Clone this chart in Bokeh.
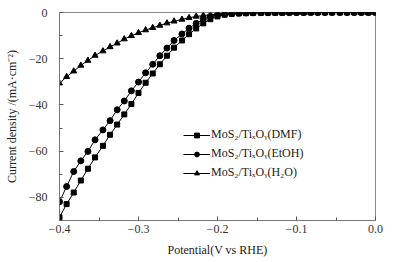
from bokeh.plotting import figure
from bokeh.models import FixedTicker, CustomJSTickFormatter, Legend, LegendItem, ColumnDataSource
from bokeh.embed import file_html
from bokeh.resources import INLINE

potential = [-0.400, -0.391, -0.382, -0.373, -0.364, -0.355, -0.345, -0.336, -0.327, -0.318,
             -0.309, -0.300, -0.291, -0.282, -0.273, -0.264, -0.255, -0.245, -0.236, -0.227,
             -0.218, -0.209, -0.200, -0.191, -0.182, -0.173, -0.164, -0.155, -0.145, -0.136,
             -0.127, -0.118, -0.109, -0.100, -0.091, -0.082, -0.073, -0.064, -0.055, -0.045,
             -0.036, -0.027, -0.018, -0.009, 0.000]

dmf = [-88.6, -82.9, -77.9, -72.7, -67.6, -62.7, -57.7, -52.9, -48.5, -44.1,
       -39.6, -34.8, -30.4, -26.4, -22.4, -18.7, -15.2, -12.1, -9.4, -6.9,
       -4.7, -2.9, -1.7, -1.0, -0.6, -0.4, -0.3, -0.2, -0.15, -0.1,
       -0.1, -0.1, -0.05, -0.05, -0.05, 0.0, 0.0, 0.0, 0.0, 0.0,
       0.0, 0.0, 0.0, 0.0, 0.0]

etoh = [-81.9, -75.3, -68.8, -64.2, -60.1, -55.1, -50.8, -46.8, -42.1, -38.3,
        -33.9, -30.1, -26.1, -22.4, -18.7, -15.4, -12.1, -9.3, -6.8, -4.7,
        -3.0, -1.7, -1.0, -0.6, -0.4, -0.3, -0.2, -0.15, -0.1, -0.1,
        -0.05, -0.05, -0.05, 0.0, 0.0, 0.0, 0.0, 0.0, 0.0, 0.0,
        0.0, 0.0, 0.0, 0.0, 0.0]

h2o = [-30.6, -27.8, -25.4, -22.9, -20.8, -18.6, -16.7, -14.9, -13.3, -11.5,
       -10.1, -8.8, -7.6, -6.6, -5.6, -4.6, -3.8, -3.0, -2.3, -1.7,
       -1.3, -1.0, -0.7, -0.5, -0.35, -0.25, -0.2, -0.15, -0.1, -0.1,
       -0.05, -0.05, -0.05, 0.0, 0.0, 0.0, 0.0, 0.0, 0.0, 0.0,
       0.0, 0.0, 0.0, 0.0, 0.0]

labels = ["MoS\u2082/Ti\u2093O\u1d67(DMF)", "MoS\u2082/Ti\u2093O\u1d67(EtOH)", "MoS\u2082/Ti\u2093O\u1d67(H\u2082O)"]

x_ticks = [-0.4, -0.3, -0.2, -0.1, 0.0]
x_minor = [-0.35, -0.25, -0.15, -0.05]
y_ticks = [-80, -60, -40, -20, 0]
y_minor = [-90, -70, -50, -30, -10]

FONT = "Liberation Serif"

p = figure(width=403, height=262, output_backend="svg", toolbar_location=None,
           x_range=(-0.4, 0.0), y_range=(-90, 0),
           min_border_left=59, min_border_right=28, min_border_top=12, min_border_bottom=42)
p.background_fill_color = "white"
p.border_fill_color = "white"
p.outline_line_color = "#888888"
p.outline_line_width = 1
p.xgrid.visible = False
p.ygrid.visible = False

fmt = CustomJSTickFormatter(code="""
if (Math.abs(tick) < 1e-9) { return '0.0'; }
return tick.toFixed(1).replace('-', '\\u2212');
""")
fmt_y = CustomJSTickFormatter(code="""
const d = Math.round(tick);
return String(d).replace('-', '\\u2212');
""")

p.xaxis.ticker = FixedTicker(ticks=x_ticks, minor_ticks=x_minor)
p.yaxis.ticker = FixedTicker(ticks=y_ticks, minor_ticks=y_minor)
p.xaxis.formatter = fmt
p.yaxis.formatter = fmt_y

for ax in (p.xaxis[0], p.yaxis[0]):
    ax.axis_line_color = "#777777"
    ax.major_tick_line_color = "#555555"
    ax.minor_tick_line_color = "#555555"
    ax.major_tick_in = 4
    ax.major_tick_out = 0
    ax.minor_tick_in = 3
    ax.minor_tick_out = 0
    ax.major_label_text_font = FONT
    ax.major_label_text_font_size = "12px"
    ax.major_label_text_color = "#333333"
    ax.axis_label_text_font = FONT
    ax.axis_label_text_font_size = "12px"
    ax.axis_label_text_font_style = "normal"
    ax.axis_label_text_color = "#222222"

p.xaxis.axis_label = "Potential(V vs RHE)"
p.yaxis.axis_label = "Current density /(mA\u00b7cm\u207b\u00b2)"
p.xaxis.major_label_standoff = 4
p.yaxis.major_label_standoff = 12
p.xaxis.axis_label_standoff = 7
p.yaxis.axis_label_standoff = 7

src = ColumnDataSource(dict(x=potential, dmf=dmf, etoh=etoh, h2o=h2o))

l1 = p.line("x", "dmf", source=src, line_color="black", line_width=1)
m1 = p.scatter("x", "dmf", source=src, marker="square", size=5, color="black")
l2 = p.line("x", "etoh", source=src, line_color="black", line_width=1)
m2 = p.scatter("x", "etoh", source=src, marker="circle", size=6, color="black")
l3 = p.line("x", "h2o", source=src, line_color="black", line_width=1)
m3 = p.scatter("x", "h2o", source=src, marker="triangle", size=6, color="black")

legend = Legend(items=[LegendItem(label=labels[0], renderers=[l1, m1]),
                       LegendItem(label=labels[1], renderers=[l2, m2]),
                       LegendItem(label=labels[2], renderers=[l3, m3])],
                location=(124, 38), orientation="vertical")
legend.background_fill_alpha = 0
legend.border_line_alpha = 0
legend.padding = 0
legend.margin = 0
legend.spacing = 0
legend.glyph_width = 27
legend.glyph_height = 12
legend.label_height = 19
legend.label_standoff = 1
legend.label_text_font = FONT
legend.label_text_font_size = "12px"
legend.label_text_color = "#222222"
p.add_layout(legend, "center")

open("out.html", "w").write(file_html(p, INLINE))
